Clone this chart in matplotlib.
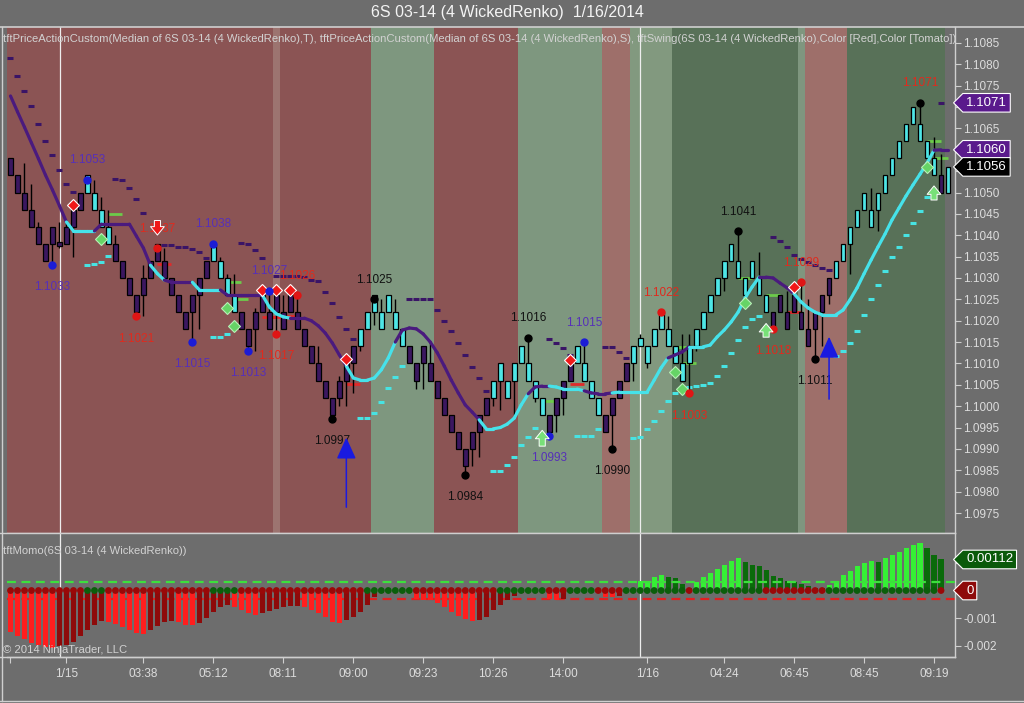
import numpy as np
import matplotlib
matplotlib.use('Agg')
import matplotlib.pyplot as plt
from matplotlib.path import Path
from matplotlib.collections import LineCollection
from matplotlib.lines import Line2D
from matplotlib.ticker import MultipleLocator, FormatStrFormatter

plt.rcParams['font.family'] = ['Liberation Sans', 'DejaVu Sans']

# ---- renko bricks (one per bar) ----
body_top = [1.1058, 1.1054, 1.1050, 1.1046, 1.1042, 1.1038, 1.1042, 1.10385, 1.1042, 1.1046,
            1.1050, 1.1054, 1.1050, 1.1046, 1.1042, 1.1038, 1.1034, 1.1030, 1.1026, 1.1030,
            1.1034, 1.1038, 1.1034, 1.1030, 1.1026, 1.1022, 1.1026, 1.1030, 1.1034, 1.1038,
            1.1034, 1.1030, 1.1026, 1.1022, 1.1018, 1.1022, 1.1026, 1.1022, 1.1026, 1.1022,
            1.1026, 1.1022, 1.1018, 1.1014, 1.1010, 1.1006, 1.1002, 1.1006, 1.1010, 1.1014,
            1.1018, 1.1022, 1.1026, 1.1022, 1.1026, 1.1022, 1.1018, 1.1014, 1.1010, 1.1014,
            1.1010, 1.1006, 1.1002, 1.0998, 1.0994, 1.0990, 1.0994, 1.0998, 1.1002, 1.1006,
            1.1010, 1.1006, 1.1010, 1.1014, 1.1010, 1.1006, 1.1002, 1.0998, 1.1002, 1.1006,
            1.1010, 1.1014, 1.1010, 1.1006, 1.1002, 1.0998, 1.1002, 1.1006, 1.1010, 1.1014,
            1.1016, 1.1014, 1.1018, 1.1022, 1.1018, 1.1014, 1.1010, 1.1014, 1.1018, 1.1022,
            1.1026, 1.1030, 1.1034, 1.1038, 1.1034, 1.1030, 1.1034, 1.1030, 1.1026, 1.1022,
            1.1026, 1.1022, 1.1026, 1.1022, 1.1018, 1.1022, 1.1026, 1.1030, 1.1034, 1.1038,
            1.1042, 1.1046, 1.1050, 1.1046, 1.1050, 1.1054, 1.1058, 1.1062, 1.1066, 1.1070,
            1.1066, 1.1062, 1.1058, 1.1054, 1.1056]
body_bot = [1.1054, 1.1050, 1.1046, 1.1042, 1.1038, 1.1034, 1.1038, 1.10375, 1.1038, 1.1042,
            1.1046, 1.1050, 1.1046, 1.1042, 1.1038, 1.1034, 1.1030, 1.1026, 1.1022, 1.1026,
            1.1030, 1.1034, 1.1030, 1.1026, 1.1022, 1.1018, 1.1022, 1.1026, 1.1030, 1.1034,
            1.1030, 1.1026, 1.1022, 1.1018, 1.1014, 1.1018, 1.1022, 1.1018, 1.1022, 1.1018,
            1.1022, 1.1018, 1.1014, 1.1010, 1.1006, 1.1002, 1.0998, 1.1002, 1.1006, 1.1010,
            1.1014, 1.1018, 1.1022, 1.1018, 1.1022, 1.1018, 1.1014, 1.1010, 1.1006, 1.1010,
            1.1006, 1.1002, 1.0998, 1.0994, 1.0990, 1.0986, 1.0990, 1.0994, 1.0998, 1.1002,
            1.1006, 1.1002, 1.1006, 1.1010, 1.1006, 1.1002, 1.0998, 1.0994, 1.0998, 1.1002,
            1.1006, 1.1010, 1.1006, 1.1002, 1.0998, 1.0994, 1.0998, 1.1002, 1.1006, 1.1010,
            1.1014, 1.1010, 1.1014, 1.1018, 1.1014, 1.1010, 1.1006, 1.1010, 1.1014, 1.1018,
            1.1022, 1.1026, 1.1030, 1.1034, 1.1030, 1.1026, 1.1030, 1.1026, 1.1022, 1.1018,
            1.1022, 1.1018, 1.1022, 1.1018, 1.1014, 1.1018, 1.1022, 1.1026, 1.1030, 1.1034,
            1.1038, 1.1042, 1.1046, 1.1042, 1.1046, 1.1050, 1.1054, 1.1058, 1.1062, 1.1066,
            1.1062, 1.1058, 1.1054, 1.1050, 1.1050]
# c = cyan (uptrend paint), p = purple (downtrend paint)
body_paint = ('p' * 11 + 'c' * 4 + 'p' * 14 + 'c' * 4 + 'p' * 17 + 'c' * 7 + 'p' * 12 +
              'c' * 8 + 'p' * 4 + 'c' * 4 + 'p' * 4 + 'c' * 20 + 'p' * 9 + 'c' * 15 + 'p' + 'c')

wick_hi = {2: 1.1057, 3: 1.1052, 4: 1.1043, 7: 1.1043, 8: 1.1043, 12: 1.1053, 13: 1.1049,
           14: 1.1046, 15: 1.1040, 19: 1.1033, 22: 1.1037, 30: 1.1035, 31: 1.1031, 32: 1.1031,
           35: 1.1023, 37: 1.1027, 39: 1.1026, 41: 1.1026, 44: 1.1014, 47: 1.1007, 53: 1.1025,
           55: 1.1025, 60: 1.1015, 74: 1.1016, 80: 1.1012, 82: 1.1015, 90: 1.1017, 93: 1.1022,
           94: 1.1021, 96: 1.1017, 97: 1.1017, 104: 1.1041, 107: 1.1036, 111: 1.1027,
           113: 1.1029, 114: 1.1025, 123: 1.1051, 130: 1.1071, 132: 1.1063, 133: 1.1059}
wick_lo = {6: 1.1033, 7: 1.1037, 9: 1.1035, 18: 1.1021, 19: 1.1021, 26: 1.1015, 27: 1.1018,
           34: 1.1013, 35: 1.1013, 38: 1.1017, 46: 1.0997, 47: 1.1000, 48: 1.1000, 49: 1.1003,
           50: 1.1013, 52: 1.1019, 58: 1.1004, 59: 1.1004, 65: 1.0984, 66: 1.0986, 67: 1.0988,
           69: 1.1000, 70: 1.0999, 72: 1.0998, 75: 1.1001, 77: 1.0993, 78: 1.0994, 79: 1.0998,
           86: 1.0990, 89: 1.1006, 91: 1.1009, 94: 1.1014, 96: 1.1006, 97: 1.1003, 98: 1.1013,
           102: 1.1027, 115: 1.1011, 116: 1.1014, 117: 1.1024, 120: 1.1031, 124: 1.1041}

# ---- smoothed median line and its trend colour ----
trend_line = [1.10726, 1.10689, 1.10653, 1.10616, 1.10579, 1.10541, 1.10506, 1.10469, 1.10431, 1.1041,
              1.1041, 1.1041, 1.1041, 1.10426, 1.10426, 1.10426, 1.10426, 1.10426, 1.10398, 1.1037,
              1.1033, 1.1031, 1.10295, 1.1029, 1.1029, 1.1029, 1.1029, 1.10272, 1.10272, 1.10272,
              1.10272, 1.1026, 1.1026, 1.1026, 1.1026, 1.1026, 1.1026, 1.10232, 1.10216, 1.10209,
              1.10206, 1.10206, 1.10206, 1.1020, 1.10188, 1.10171, 1.10148, 1.1012, 1.10094, 1.10066,
              1.10061, 1.10061, 1.10066, 1.10085, 1.10113, 1.1015, 1.10178, 1.10183, 1.10181, 1.10169,
              1.1015, 1.10125, 1.10094, 1.10061, 1.10031, 1.10003, 1.09986, 1.09968, 1.09947, 1.09947,
              1.0995, 1.09958, 1.09972, 1.10003, 1.10029, 1.10045, 1.10047, 1.10047, 1.10045, 1.1004,
              1.1004, 1.1004, 1.10036, 1.10031, 1.10029, 1.10029, 1.10031, 1.10033, 1.10033, 1.10033,
              1.10033, 1.10033, 1.10061, 1.1009, 1.10113, 1.1012, 1.10127, 1.10139, 1.10139, 1.10139,
              1.10143, 1.10162, 1.10178, 1.10197, 1.1022, 1.10253, 1.10279, 1.10302, 1.10302, 1.1030,
              1.10288, 1.10277, 1.10263, 1.10244, 1.1023, 1.1022, 1.10214, 1.10214, 1.10214, 1.10225,
              1.10249, 1.10277, 1.1031, 1.10342, 1.10373, 1.10403, 1.10436, 1.10464, 1.10492, 1.10518,
              1.10543, 1.10569, 1.10599, 1.1060, 1.1060]
trend_up = ('d' * 9 + 'u' * 4 + 'd' * 8 + 'u' * 2 + 'd' * 4 + 'u' * 4 + 'd' * 6 + 'u' * 4 +
            'd' * 8 + 'u' * 7 + 'd' * 12 + 'u' * 7 + 'd' * 3 + 'u' * 5 + 'd' * 4 + 'u' * 8 +
            'd' * 3 + 'u' * 10 + 'd' * 5 + 'u' * 20 + 'd' * 2)

# trailing stops
stop_dn = {0: 1.10815, 1: 1.10773, 2: 1.10738, 3: 1.10703, 4: 1.1066, 5: 1.10621, 6: 1.10588,
           7: 1.10553, 8: 1.1052, 9: 1.10501, 15: 1.10532, 16: 1.10529, 17: 1.10511, 18: 1.10485,
           19: 1.10452, 22: 1.10377, 23: 1.10377, 24: 1.10373, 25: 1.10373, 26: 1.10368,
           27: 1.10361, 28: 1.10347, 33: 1.10382, 34: 1.1038, 35: 1.10366, 36: 1.10347,
           38: 1.10305, 39: 1.10305, 40: 1.10305, 41: 1.10305, 42: 1.10302, 43: 1.10295,
           44: 1.10293, 45: 1.10267, 46: 1.10242, 47: 1.10209, 48: 1.10181, 49: 1.10157,
           57: 1.10251, 58: 1.10251, 59: 1.10251, 60: 1.10251, 61: 1.10225, 62: 1.10199,
           63: 1.10176, 64: 1.10148, 65: 1.1012, 66: 1.10092, 67: 1.10066, 68: 1.10036,
           77: 1.10157, 78: 1.10148, 79: 1.10136, 80: 1.1012, 85: 1.10139, 86: 1.10139,
           87: 1.10127, 88: 1.10113, 109: 1.10396, 110: 1.10387, 111: 1.10373, 112: 1.10354,
           113: 1.10345, 114: 1.10337, 115: 1.1033, 116: 1.10323, 117: 1.10319, 133: 1.1071}
stop_up = {11: 1.1033, 12: 1.10332, 13: 1.10337, 14: 1.10351, 29: 1.10162, 30: 1.10162,
           31: 1.10169, 50: 1.09972, 51: 1.09972, 52: 1.09984, 53: 1.1001, 54: 1.10043,
           55: 1.10068, 56: 1.10094, 69: 1.09848, 70: 1.09848, 71: 1.09862, 72: 1.09881,
           73: 1.09909, 74: 1.09928, 75: 1.09949, 81: 1.0993, 82: 1.0993, 83: 1.0993,
           84: 1.09947, 89: 1.09926, 90: 1.09928, 91: 1.09947, 92: 1.09965, 93: 1.09989,
           94: 1.10012, 95: 1.10031, 96: 1.1004, 97: 1.10045, 98: 1.10047, 99: 1.1005,
           100: 1.10055, 101: 1.1007, 102: 1.10095, 103: 1.10125, 104: 1.10155, 105: 1.10185,
           106: 1.10205, 107: 1.10211, 118: 1.10117, 119: 1.10129, 120: 1.10148, 121: 1.10176,
           122: 1.10213, 123: 1.10251, 124: 1.10284, 125: 1.10316, 126: 1.10349, 127: 1.10373,
           128: 1.10401, 129: 1.10429, 130: 1.10457, 131: 1.1049}
tick_green = {15: 1.1045, 32: 1.10291, 33: 1.10251, 77: 1.10012, 96: 1.10139, 97: 1.10101,
              105: 1.1030, 109: 1.1026, 132: 1.10621, 133: 1.10581}
tick_red = {22: 1.10333, 37: 1.10209, 38: 1.10209, 40: 1.1021, 49: 1.10052, 81: 1.10052,
            112: 1.1022}

# swings
swing_k = [6, 11, 21, 18, 26, 29, 34, 37, 38, 41, 46, 52, 65, 74, 77, 82, 86, 93, 97, 104,
           109, 113, 115, 130]
swing_px = [1.1033, 1.1053, 1.1037, 1.1021, 1.1015, 1.1038, 1.1013, 1.1027, 1.1017, 1.1026,
            1.0997, 1.1025, 1.0984, 1.1016, 1.0993, 1.1015, 1.0990, 1.1022, 1.1003, 1.1041,
            1.1018, 1.1029, 1.1011, 1.1071]
swing_side = 'lhhllhlhlhlhlhlhlhlhlhlh'
swing_dot = 'bbrrbbbbrrkkkkbbkrrkrrkk'
swing_txt = 'bbrrbbbbrrkkkkbbkrrkrrkr'

diamond_red_k = [9, 36, 38, 40, 48, 80, 112]
diamond_red_px = [1.10471, 1.10272, 1.10272, 1.10272, 1.1011, 1.10108, 1.10279]
diamond_grn_k = [13, 31, 32, 95, 96, 105, 131]
diamond_grn_px = [1.10391, 1.1023, 1.10188, 1.1008, 1.1004, 1.10241, 1.1056]

arrow_up_k = [76, 108, 132]
arrow_up_tail = [1.0990, 1.10155, 1.10476]
arrow_up_tip = [1.0995, 1.1020, 1.10522]
arrow_dn_k = [21]
arrow_dn_tail = [1.10441]
arrow_dn_tip = [1.10394]
entry_k = [48, 117]
entry_tail = [1.09757, 1.1001]
entry_tip = [1.09933, 1.10169]

# background shading per bar
shade_runs = [('r', 38), ('q', 1), ('r', 13), ('g', 9), ('r', 12), ('g', 12), ('p', 4),
              ('h', 6), ('d', 18), ('s', 1), ('p', 6), ('d', 14)]

# ---- momentum panel ----
momo = [-0.00149, -0.00164, -0.00175, -0.00189, -0.00196, -0.00204, -0.00207, -0.00202, -0.00196, -0.00185,
        -0.00164, -0.00142, -0.00124, -0.00110, -0.00114, -0.0012, -0.00132, -0.00142, -0.00152, -0.00156,
        -0.00142, -0.00128, -0.00112, -0.00109, -0.00112, -0.00124, -0.00125, -0.00116, -0.00098, -0.00076,
        -0.00058, -0.00051, -0.00058, -0.00069, -0.0008, -0.00087, -0.0008, -0.00073, -0.00065, -0.00058,
        -0.00056, -0.00055, -0.00058, -0.00069, -0.0008, -0.00095, -0.00112, -0.00116, -0.00105, -0.00095,
        -0.00076, -0.00051, -0.00025, -0.0001, -0.00004, 0.0, 0.0, -0.0001, -0.0003, -0.00033,
        -0.00036, -0.00044, -0.00058, -0.00076, -0.00091, -0.00102, -0.00109, -0.00105, -0.00095, -0.00069,
        -0.00051, -0.00036, -0.0002, -0.0001, 0.0, 0.0, 0.0, -0.0003, -0.00033, -0.0003,
        -0.0001, 0.0, 0.0, 0.0, -0.00005, -0.00022, -0.00025, -0.0002, 0.0, 0.0001,
        0.00033, 0.00036, 0.00047, 0.00055, 0.0005, 0.00044, 0.00025, 0.0001, 0.0003, 0.00047,
        0.00065, 0.00076, 0.00091, 0.00105, 0.00116, 0.00102, 0.00091, 0.0009, 0.00073, 0.00051,
        0.00044, 0.00033, 0.00029, 0.00025, 0.00015, 0.0001, 0.00008, 0.0002, 0.00036, 0.00055,
        0.0007, 0.00087, 0.00098, 0.00105, 0.00103, 0.00119, 0.00127, 0.00138, 0.00153, 0.00164,
        0.00171, 0.00153, 0.0013, 0.00112, np.nan]
momo_dot_runs = [('r', 11), ('g', 3), ('r', 15), ('g', 4), ('r', 18), ('g', 7), ('r', 12),
                 ('g', 7), ('r', 3), ('g', 4), ('r', 4), ('g', 9), ('r', 1), ('g', 10),
                 ('r', 9), ('g', 16), ('r', 1)]
momo_upper, momo_lower = 0.0003, -0.0003

tick_pos = [0, 8, 19, 29, 39, 49, 59, 69, 79, 91, 102, 112, 122, 132]
tick_lab = ['', '1/15', '03:38', '05:12', '08:11', '09:00', '09:23', '10:26', '14:00',
            '1/16', '04:24', '06:45', '08:45', '09:19']
session_breaks = [7.1, 90]

# ---- styling ----
BG = '#6D6D6D'
FRAME = '#cfcfcf'
TXT = '#dcdcdc'
CYAN = '#4EE6E6'
PURPLE = '#3B1760'
LINE_UP = '#46E2EA'
LINE_DN = '#4A1A7E'
SHADE = {'r': '#8B5454', 'q': '#9C7470', 'g': '#7E977F', 'p': '#9E6F6A',
         'h': '#82997F', 'd': '#587158', 's': '#7F967F'}
DOT = {'b': '#1C1CD6', 'r': '#E01515', 'k': '#000000'}
LABEL = {'b': '#5630B8', 'r': '#E02A1E', 'k': '#111111'}

W, H = 1024, 703
n = len(body_top)
k = np.arange(n)
ylo, yhi = 1.097032, 1.108874

fig = plt.figure(figsize=(W / 100, H / 100), dpi=100, facecolor=BG)
ax = fig.add_axes([7 / W, 1 - 533 / H, 948 / W, 506 / H])
axm = fig.add_axes([7 / W, 1 - 657 / H, 948 / W, 123 / H])
for a in (ax, axm):
    a.set_facecolor(BG)
    a.set_xlim(-0.5, 135)
    for s in a.spines.values():
        s.set_color(FRAME)
        s.set_linewidth(1.0)
    a.spines['left'].set_visible(False)
    a.spines['top'].set_visible(False)
ax.set_ylim(ylo, yhi)

# shading
shade = ''.join(c * m for c, m in shade_runs)
sk = np.arange(len(shade))
ax.bar(sk, yhi - ylo, bottom=ylo, width=1.0, color=[SHADE[c] for c in shade],
       linewidth=0, antialiased=False, zorder=0)
for xb in session_breaks:
    ax.axvline(xb, color='#eeeeee', lw=0.9, zorder=1)
    axm.axvline(xb, color='#eeeeee', lw=0.9, zorder=1)

# stops and small ticks
for d, col in ((stop_dn, '#3A1466'), (stop_up, '#47E3E3')):
    ax.plot(list(d.keys()), list(d.values()), ls='none', marker='_', ms=5, mew=2.2,
            color=col, zorder=2)
ax.plot(list(tick_green.keys()), list(tick_green.values()), ls='none', marker='_', ms=10,
        mew=2, color='#6CCB4A', zorder=2)
ax.plot(list(tick_red.keys()), list(tick_red.values()), ls='none', marker='_', ms=10,
        mew=2, color='#E02A2A', zorder=2)

# candles
hi = np.array([wick_hi.get(i, body_top[i]) for i in k])
lo = np.array([wick_lo.get(i, body_bot[i]) for i in k])
ax.vlines(k, lo, hi, color='black', lw=1.0, zorder=3)
top = np.array(body_top)
bot = np.array(body_bot)
ax.bar(k, top - bot, bottom=bot, width=0.68,
       color=[CYAN if c == 'c' else PURPLE for c in body_paint],
       edgecolor='black', linewidth=0.9, zorder=4)

# trend line
pts = np.column_stack([k, trend_line])
segs = [pts[i:i + 2] for i in range(n - 1)]
seg_cols = [LINE_UP if trend_up[i + 1] == 'u' else LINE_DN for i in range(n - 1)]
ax.add_collection(LineCollection(segs, colors=seg_cols, linewidths=2.3,
                                 capstyle='round', zorder=5))

# diamonds
ax.plot(diamond_red_k, diamond_red_px, ls='none', marker='D', ms=6.5, mfc='#F01818',
        mec='white', mew=0.8, zorder=6)
ax.plot(diamond_grn_k, diamond_grn_px, ls='none', marker='D', ms=6.5, mfc='#66D466',
        mec='#b8f0b8', mew=0.8, zorder=6)

# swing dots & labels
for kk, px, side, dc, tc in zip(swing_k, swing_px, swing_side, swing_dot, swing_txt):
    ax.plot(kk, px, marker='o', ms=5, color=DOT[dc], zorder=6)
    dy = 14 if side == 'h' else -16
    ax.annotate(f'{px:.4f}', (kk, px), xytext=(0, dy), textcoords='offset points',
                ha='center', va='center', fontsize=8.5, color=LABEL[tc], zorder=6)

# arrows
for kk, t0, t1 in zip(arrow_up_k, arrow_up_tail, arrow_up_tip):
    ax.annotate('', xy=(kk, t1), xytext=(kk, t0),
                arrowprops=dict(arrowstyle='simple,head_length=0.55,head_width=0.9,tail_width=0.4',
                                fc='#78E078', ec='white', lw=0.7, mutation_scale=11), zorder=7)
for kk, t0, t1 in zip(arrow_dn_k, arrow_dn_tail, arrow_dn_tip):
    ax.annotate('', xy=(kk, t1), xytext=(kk, t0),
                arrowprops=dict(arrowstyle='simple,head_length=0.55,head_width=0.9,tail_width=0.4',
                                fc='#F01818', ec='white', lw=0.7, mutation_scale=11), zorder=7)
for kk, t0, t1 in zip(entry_k, entry_tail, entry_tip):
    ax.annotate('', xy=(kk, t1), xytext=(kk, t0),
                arrowprops=dict(arrowstyle='-|>,head_length=1.1,head_width=0.5',
                                color='#1A1AE0', lw=1.1, mutation_scale=12), zorder=7)

# price axis
ax.yaxis.tick_right()
ax.yaxis.set_major_locator(MultipleLocator(0.0005))
ax.yaxis.set_major_formatter(FormatStrFormatter('%.4f'))
ax.tick_params(axis='y', colors=FRAME, labelcolor=TXT, labelsize=8.5, length=4, pad=2)
ax.set_xticks([])


def tag_shape(x0, y0, width, height, mutation_size):
    pad = 0.25 * mutation_size
    x0, y0 = x0 - pad, y0 - pad
    x1, y1 = x0 + width + 2 * pad, y0 + height + 2 * pad
    tip = (y1 - y0) / 2
    return Path([(x0, y0), (x1, y0), (x1, y1), (x0, y1), (x0 - tip, y0 + tip), (x0, y0)],
                closed=True)


def tag(a, y, text, fc):
    a.annotate(text, xy=(1, y), xycoords=('axes fraction', 'data'), xytext=(8, 0),
               textcoords='offset points', ha='left', va='center', fontsize=9.5,
               color='white', annotation_clip=False, zorder=10,
               bbox=dict(boxstyle=tag_shape, fc=fc, ec='white', lw=0.8))


tag(ax, 1.1071, '1.1071', '#5A1A8C')
tag(ax, 1.1060, '1.1060', '#5A1A8C')
tag(ax, 1.1056, '1.1056', '#000000')

# momentum
mv = np.array(momo, dtype=float)
mcol = []
prev = 0.0
for v in mv:
    if np.isnan(v):
        mcol.append('none')
        continue
    if v >= 0:
        mcol.append('#35F035' if v >= prev else '#0A6A0A')
    else:
        mcol.append('#FF1E1E' if v <= prev else '#8E0A0A')
    prev = v
axm.bar(k, np.nan_to_num(mv), width=0.72, color=mcol, linewidth=0, zorder=2)
axm.axhline(momo_upper, color='#3CE03C', lw=1.6, ls=(0, (4, 2.5)), zorder=3)
axm.axhline(momo_lower, color='#E02020', lw=1.6, ls=(0, (4, 2.5)), zorder=1)
dots = ''.join(c * m for c, m in momo_dot_runs)
axm.scatter(np.arange(len(dots)), np.zeros(len(dots)),
            c=['#0B5E0B' if c == 'g' else '#9A0808' for c in dots], s=24, zorder=4,
            linewidths=0)
axm.set_ylim(-0.0024, 0.00204)
axm.yaxis.tick_right()
axm.set_yticks([-0.002, -0.001, 0, 0.001])
axm.set_yticklabels(['-0.002', '-0.001', '0', '0.001'])
axm.tick_params(axis='y', colors=FRAME, labelcolor=TXT, labelsize=8.5, length=4, pad=2)
axm.set_xticks(tick_pos)
axm.set_xticklabels(tick_lab)
axm.tick_params(axis='x', colors=FRAME, labelcolor=TXT, labelsize=8.5, length=4, pad=4)
tag(axm, 0.00112, '0.00112', '#0A5A0A')
tag(axm, 0.0, '0', '#8E0A0A')

# frame lines and texts
fig.add_artist(Line2D([0, 1], [1 - 27 / H] * 2, color=FRAME, lw=1.2))
fig.add_artist(Line2D([0, 955 / W], [1 - 533 / H] * 2, color=FRAME, lw=1.0))
fig.add_artist(Line2D([0, 955 / W], [1 - 657 / H] * 2, color=FRAME, lw=1.0))
fig.add_artist(Line2D([1.5 / W] * 2, [1 - 701 / H, 1 - 27 / H], color=FRAME, lw=1.0))
fig.add_artist(Line2D([0, 1], [1 - 701 / H] * 2, color=FRAME, lw=1.0))

fig.text(507 / W, 1 - 13 / H, '6S 03-14 (4 WickedRenko)  1/16/2014', ha='center',
         va='center', fontsize=11.5, color='#f4f4f4')
fig.text(3 / W, 1 - 39 / H,
         'tftPriceActionCustom(Median of 6S 03-14 (4 WickedRenko),T), '
         'tftPriceActionCustom(Median of 6S 03-14 (4 WickedRenko),S), '
         'tftSwing(6S 03-14 (4 WickedRenko),Color [Red],Color [Tomato])',
         ha='left', va='center', fontsize=8.1, color='#d2d2d2', zorder=10)
fig.text(3 / W, 1 - 551 / H, 'tftMomo(6S 03-14 (4 WickedRenko))', ha='left', va='center',
         fontsize=8.1, color='#d2d2d2')
fig.text(3 / W, 1 - 650 / H, '\u00a9 2014 NinjaTrader, LLC', ha='left', va='center',
         fontsize=8.1, color='#d2d2d2')

fig.savefig('out.png', dpi=100, facecolor=BG)
